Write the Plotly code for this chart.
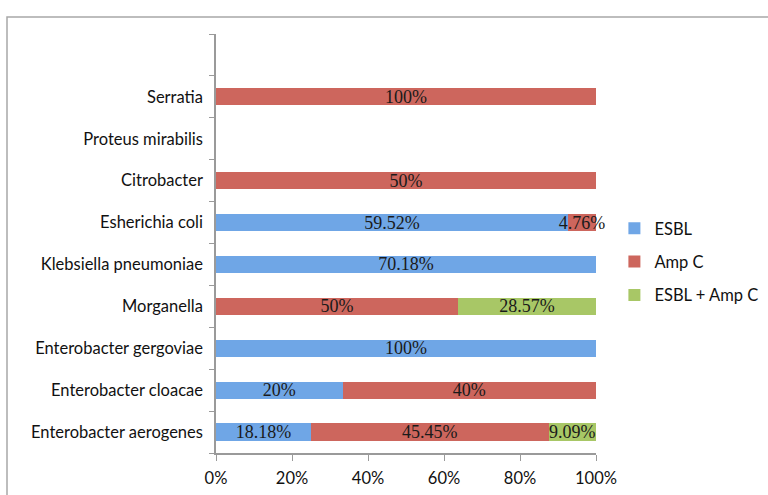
import plotly.graph_objects as go

# Organisms, bottom to top; the blank top slot keeps the empty row above Serratia
organisms = [
    "Enterobacter aerogenes",
    "Enterobacter cloacae",
    "Enterobacter gergoviae",
    "Morganella",
    "Klebsiella pneumoniae",
    "Esherichia coli",
    "Citrobacter",
    "Proteus mirabilis",
    "Serratia",
    " ",
]

# Percentage of isolates per resistance mechanism (None = not present)
esbl = [18.18, 20, 100, None, 70.18, 59.52, None, None, None, None]
amp_c = [45.45, 40, None, 50, None, 4.76, 50, None, 100, None]
esbl_amp_c = [9.09, None, None, 28.57, None, None, None, None, None, None]

x_ticks = [0, 20, 40, 60, 80, 100]
x_tick_labels = ["0%", "20%", "40%", "60%", "80%", "100%"]

series = [
    ("ESBL", esbl, "#6FA6E6"),
    ("Amp C", amp_c, "#CD665D"),
    ("ESBL + Amp C", esbl_amp_c, "#A8C766"),
]


def label(v):
    return "" if v is None else f"{v:g}%"


fig = go.Figure()
for name, vals, color in series:
    fig.add_trace(go.Bar(
        name=name,
        legendgroup=name,
        y=organisms,
        x=vals,
        orientation="h",
        marker=dict(color=color, line=dict(width=0)),
        text=[label(v) for v in vals],
        textposition="inside",
        insidetextanchor="middle",
        textangle=0,
        constraintext="none",
        textfont=dict(family="Liberation Serif", size=18, color="#1a1a1a"),
        cliponaxis=False,
    ))

axis_font = dict(family="Lato, Open Sans, sans-serif", size=16.5, color="#111111")

fig.update_layout(
    barmode="stack",
    barnorm="percent",
    bargap=0.59,
    width=768,
    height=495,
    margin=dict(l=216, r=172, t=34, b=42, autoexpand=False),
    paper_bgcolor="white",
    plot_bgcolor="white",
    uniformtext=dict(minsize=18, mode="show"),
    showlegend=True,
    legend=dict(
        xref="container", yref="paper",
        x=0.80, y=0.456, xanchor="left", yanchor="middle",
        font=dict(family="Lato, Open Sans, sans-serif", size=16.5, color="#111111"),
        itemsizing="constant",
        itemwidth=30,
        tracegroupgap=9,
        traceorder="grouped",
        bgcolor="rgba(0,0,0,0)",
    ),
    xaxis=dict(
        range=[0, 100],
        tickvals=x_ticks,
        ticktext=x_tick_labels,
        showgrid=False,
        zeroline=False,
        showline=True,
        linecolor="#9a9a9a",
        linewidth=1.5,
        ticks="outside",
        ticklen=6,
        tickcolor="#9a9a9a",
        tickfont=axis_font,
        ticklabelstandoff=3,
    ),
    yaxis=dict(
        type="category",
        categoryorder="array",
        categoryarray=organisms,
        range=[-0.5, len(organisms) - 0.5],
        showgrid=False,
        zeroline=False,
        showline=True,
        linecolor="#9a9a9a",
        linewidth=1.5,
        ticks="outside",
        tickson="boundaries",
        ticklen=5,
        tickcolor="#9a9a9a",
        tickfont=axis_font,
        ticklabelstandoff=8,
    ),
)

# Outer chart frame
fig.add_shape(
    type="rect", xref="paper", yref="paper",
    x0=(7 - 216) / 380, x1=(775 - 216) / 380,
    y0=(453 - 505) / 419, y1=1 + (34 - 17) / 419,
    line=dict(color="#a8a8a8", width=1.5),
    fillcolor="rgba(0,0,0,0)",
    layer="below",
)

fig.write_html("out.html")
